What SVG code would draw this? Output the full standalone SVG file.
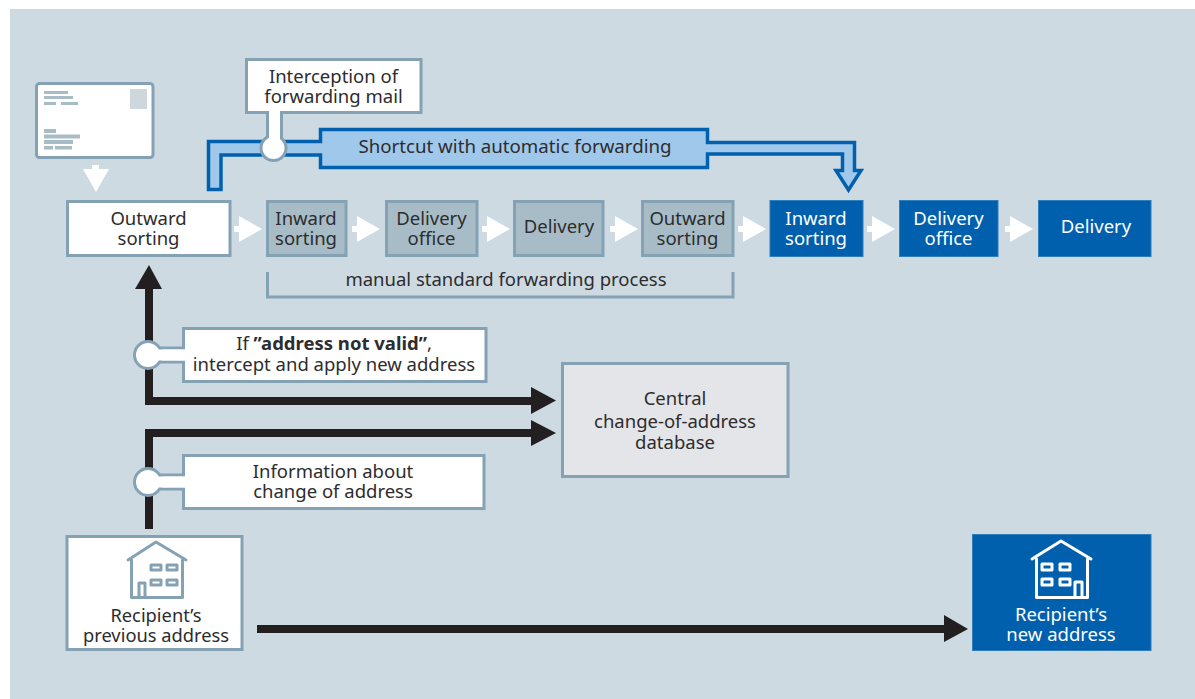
<svg xmlns="http://www.w3.org/2000/svg" width="1195" height="699" viewBox="0 0 1195 699">
<defs>
<style>
text{font-family:"Noto Sans","Open Sans","Liberation Sans",sans-serif;font-size:18.5px;fill:#2d2c2e;text-anchor:middle}
.w text,text.w{fill:#fff}
.b{fill:#fff;stroke:#84a2b4;stroke-width:3}
.g{fill:#a7bcc6;stroke:#84a2b4;stroke-width:3}
.bl{fill:#0060ae;stroke:#2f7dbb;stroke-width:1}
.hp{fill:none;stroke:#84a2b4;stroke-width:3;stroke-linejoin:round;stroke-linecap:round}
.hw{fill:none;stroke:#fff;stroke-width:3;stroke-linejoin:round;stroke-linecap:round}
.ln{fill:#a7bcc6}
.blk{fill:none;stroke:#231f20;stroke-width:8}
.hd{fill:#231f20}
</style>
<polygon id="wa" points="0,-3 5,-3 5,-13 28,0 5,13 5,3 0,3" fill="#fff"/>
</defs>
<rect x="10" y="9" width="1185" height="690" fill="#cddae2"/>
<g id="connectors">
<use href="#wa" x="234" y="229"/>
<use href="#wa" x="352" y="229"/>
<use href="#wa" x="482" y="229"/>
<use href="#wa" x="610" y="229"/>
<use href="#wa" x="738" y="229"/>
<use href="#wa" x="867" y="229"/>
<use href="#wa" x="1005" y="229"/>
<polygon points="92,165 99,165 99,169 109,169 96,192 83,169 92,169" fill="#fff"/>
<path d="M208.500,189.500V141.500H320.500V129.500H707.500V142.500H854.500V170.500H861L848.500,190L836,170.500H842.500V154H707.500V167.500H320.500V155H221V189.500Z" fill="#a0c8eb" stroke="#0060ae" stroke-width="3.500"/>
<path class="blk" d="M149,289V401H532"/>
<polygon class="hd" points="149,265 162,289 135,289"/>
<polygon class="hd" points="556,400.500 531,387 531,414"/>
<path class="blk" d="M149,529V433H532"/>
<polygon class="hd" points="556,433 531,420 531,446"/>
<path class="blk" d="M257,629H945"/>
<polygon class="hd" points="968,629 944,615 944,642"/>
<path d="M267.500,272V297H733V272" fill="none" stroke="#84a2b4" stroke-width="3"/>
</g>
<g id="envelope">
<rect class="b" x="36.500" y="83.500" width="116.500" height="74" rx="3"/>
<rect x="130" y="89" width="17" height="20" fill="#cdd7dd"/>
<rect class="ln" x="44" y="91" width="24" height="3"/><rect class="ln" x="44" y="96" width="29" height="3"/><rect class="ln" x="44" y="102" width="12" height="3"/><rect class="ln" x="61" y="102" width="17" height="3"/>
<rect class="ln" x="44" y="129" width="12" height="4"/><rect class="ln" x="44" y="134.500" width="36" height="4"/><rect class="ln" x="44" y="140" width="29" height="4"/><rect class="ln" x="44" y="146" width="9" height="3.500"/><rect class="ln" x="55" y="146" width="17" height="3.500"/>
</g>
<g id="outward-sorting"><rect class="b" x="67.500" y="201.500" width="162.500" height="54"/><text x="148.500" y="225">Outward</text><text x="148.500" y="245">sorting</text></g>
<g id="inward-sorting-1"><rect class="g" x="267.500" y="201.500" width="78.500" height="54"/><text x="306" y="225">Inward</text><text x="306" y="245">sorting</text></g>
<g id="delivery-office-1"><rect class="g" x="386.500" y="201.500" width="90.500" height="54"/><text x="431.500" y="225">Delivery</text><text x="431.500" y="245">office</text></g>
<g id="delivery-1"><rect class="g" x="514.500" y="201.500" width="88.500" height="54"/><text x="559" y="233">Delivery</text></g>
<g id="outward-sorting-2"><rect class="g" x="642.500" y="201.500" width="90.500" height="54"/><text x="687.500" y="225">Outward</text><text x="687.500" y="245">sorting</text></g>
<g id="inward-sorting-2" class="w"><rect class="bl" x="770" y="200.500" width="93" height="56"/><text x="816" y="225">Inward</text><text x="816" y="245">sorting</text></g>
<g id="delivery-office-2" class="w"><rect class="bl" x="899.500" y="200.500" width="98.500" height="56"/><text x="948.500" y="225">Delivery</text><text x="948.500" y="245">office</text></g>
<g id="delivery-2" class="w"><rect class="bl" x="1038.500" y="200.500" width="112.500" height="56"/><text x="1096" y="233">Delivery</text></g>
<g id="shortcut-label"><text x="515" y="153" style="font-size:18.7px">Shortcut with automatic forwarding</text></g>
<g id="bracket-label"><text x="506" y="286">manual standard forwarding process</text></g>
<g id="interception">
<path class="b" d="M246.500,59.500H421V112.500H281.500V136H267.500V112.500H246.500Z"/>
<circle cx="273.500" cy="148" r="12.500" fill="#fff" stroke="#84a2b4" stroke-width="3"/>
<path d="M269,112H280V140H269Z" fill="#fff"/>
<text x="333.500" y="83">Interception of</text><text x="333.500" y="103">forwarding mail</text>
</g>
<g id="address-not-valid">
<path class="b" d="M183.500,328.500H486V381.500H183.500V362H160V348H183.500Z"/>
<circle cx="148" cy="355" r="13.500" fill="#fff" stroke="#84a2b4" stroke-width="3"/>
<path d="M155,349.500H185V360.500H155Z" fill="#fff"/>
<text x="334" y="350">If <tspan font-weight="700">”address not valid”</tspan>,</text><text x="334" y="371">intercept and apply new address</text>
</g>
<g id="change-information">
<path class="b" d="M183.500,455.500H484V508.500H183.500V489H160V475H183.500Z"/>
<circle cx="148" cy="482" r="13.500" fill="#fff" stroke="#84a2b4" stroke-width="3"/>
<path d="M155,476.500H185V487.500H155Z" fill="#fff"/>
<text x="333" y="478">Information about</text><text x="333" y="498">change of address</text>
</g>
<g id="central-database"><rect x="562.500" y="363.500" width="225.500" height="113" fill="#e3e5e8" stroke="#84a2b4" stroke-width="3"/><text x="675" y="405">Central</text><text x="675" y="428">change-of-address</text><text x="675" y="449">database</text></g>
<g id="previous-address">
<rect class="b" x="67" y="536.500" width="175" height="113"/>
<path class="hp" d="M128,560L156,542L186,560M131.500,560V597.500H182.500V560M139,597.500V583H145V597.500"/>
<rect class="hp" x="151" y="565" width="10" height="5"/><rect class="hp" x="167" y="565" width="10" height="5"/><rect class="hp" x="151" y="580" width="10" height="5"/><rect class="hp" x="167" y="580" width="10" height="5"/>
<text x="156" y="622" style="font-size:18.3px">Recipient’s</text><text x="156" y="642" style="font-size:18.3px">previous address</text>
</g>
<g id="new-address" class="w">
<rect class="bl" x="972.500" y="534.500" width="178.500" height="116"/>
<path class="hw" d="M1032,559L1061,541L1091,559M1036.500,559V597.500H1087.500V559M1075,597.500V582H1082V597.500"/>
<rect class="hw" x="1042" y="564" width="10" height="6"/><rect class="hw" x="1060" y="564" width="10" height="6"/><rect class="hw" x="1042" y="579" width="10" height="6"/><rect class="hw" x="1060" y="579" width="10" height="6"/>
<text x="1061" y="621">Recipient’s</text><text x="1061" y="641">new address</text>
</g>
</svg>
